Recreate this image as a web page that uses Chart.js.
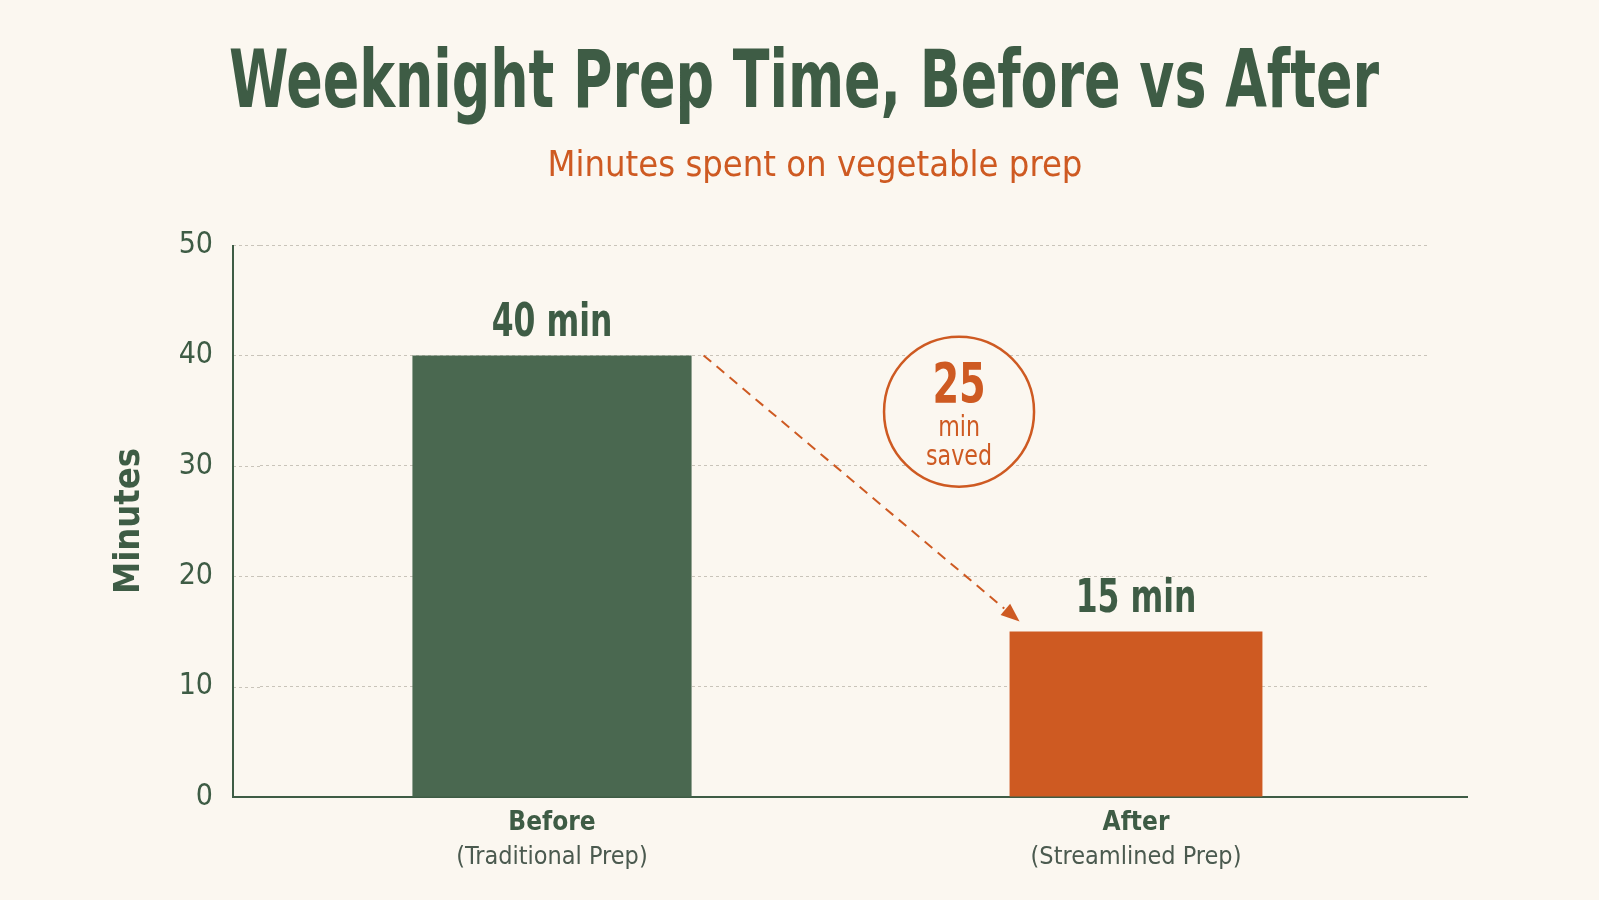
<!DOCTYPE html>
<html>
<head>
<meta charset="utf-8">
<title>Weeknight Prep Time, Before vs After</title>
<script src="https://cdn.jsdelivr.net/npm/chart.js@4.4.1/dist/chart.umd.min.js"></script>
<style>
  html, body { margin: 0; padding: 0; background: #FBF7F0; }
  #wrap { width: 1599px; height: 900px; }
</style>
</head>
<body>
<div id="wrap"><canvas id="prepChart" width="1599" height="900"></canvas></div>
<script>
// chart data
const titleText = 'Weeknight Prep Time, Before vs After';
const subtitleText = 'Minutes spent on vegetable prep';
const categories = ['Before', 'After'];
const subLabels = ['(Traditional Prep)', '(Streamlined Prep)'];
const minutes = [40, 15];
const barWidths = [0.478, 0.433];
const yMin = 0;
const yMax = 50;
const yStep = 10;

(function() {
    'use strict';

    const FONT = "'DejaVu Sans Condensed', 'DejaVu Sans', sans-serif";
    const GREEN = '#3E5C45';
    const BAR_GREEN = '#4A6850';
    const ORANGE = '#CE5A22';
    const BG = '#FBF7F0';
    const GRID = '#C9C4BA';

    // draw text squeezed horizontally (no narrow font installed)
    function squeezeText(ctx, text, x, y, sx) {
        ctx.save();
        ctx.translate(x, y);
        ctx.scale(sx, 1);
        ctx.fillText(text, 0, 0);
        ctx.restore();
    }

    // background + headline
    const headPlugin = {
        id: 'head',
        beforeDraw(chart) {
            const ctx = chart.ctx;
            ctx.save();
            ctx.fillStyle = BG;
            ctx.fillRect(0, 0, chart.width, chart.height);

            ctx.textAlign = 'center';
            ctx.textBaseline = 'alphabetic';
            ctx.fillStyle = GREEN;
            ctx.font = 'bold 80px ' + FONT;
            const w = ctx.measureText(titleText).width;
            squeezeText(ctx, titleText, 804, 107, 1150 / w);

            ctx.fillStyle = ORANGE;
            ctx.font = '36px ' + FONT;
            ctx.textBaseline = 'middle';
            squeezeText(ctx, subtitleText, 815, 167, 1.0);
            ctx.restore();
        }
    };

    // axis lines sit a bit left of the plot, x axis runs a bit past it
    const axisPlugin = {
        id: 'axisLines',
        beforeDatasetsDraw(chart) {
            const ctx = chart.ctx;
            const area = chart.chartArea;
            const y = chart.scales.y;
            const axisX = area.left - 27;
            ctx.save();
            ctx.strokeStyle = GRID;
            ctx.lineWidth = 1;
            ctx.setLineDash([3, 3]);
            y.ticks.forEach(function(t) {
                if (t.value === yMin) return;
                const py = Math.round(y.getPixelForValue(t.value)) + 0.5;
                ctx.beginPath();
                ctx.moveTo(axisX, py);
                ctx.lineTo(area.left, py);
                ctx.stroke();
            });
            ctx.setLineDash([]);
            ctx.strokeStyle = GREEN;
            ctx.lineWidth = 2;
            const y0 = y.getPixelForValue(yMin);
            ctx.beginPath();
            ctx.moveTo(axisX, y.getPixelForValue(yMax));
            ctx.lineTo(axisX, y0);
            ctx.lineTo(area.right + 40, y0);
            ctx.stroke();
            ctx.restore();
        }
    };

    // value labels, sub labels, arrow and savings badge
    const notesPlugin = {
        id: 'notes',
        afterDatasetsDraw(chart) {
            const ctx = chart.ctx;
            const xs = chart.scales.x;
            const ys = chart.scales.y;
            const bars = minutes.map(function(v, i) {
                return chart.getDatasetMeta(i).data[i];
            });
            ctx.save();

            // "40 min" / "15 min"
            ctx.fillStyle = GREEN;
            ctx.textAlign = 'center';
            ctx.textBaseline = 'alphabetic';
            ctx.font = 'bold 46px ' + FONT;
            bars.forEach(function(b, i) {
                squeezeText(ctx, minutes[i] + ' min', b.x, b.y - 19, 0.76);
            });

            // second line of x labels
            ctx.fillStyle = '#4B5A4F';
            ctx.font = '25px ' + FONT;
            ctx.textBaseline = 'middle';
            subLabels.forEach(function(s, i) {
                ctx.fillText(s, xs.getPixelForTick(i), chart.chartArea.bottom + 60);
            });

            // dashed arrow from first bar to second
            const b0 = bars[0], b1 = bars[1];
            const sx = b0.x + b0.width / 2 + 12;
            const sy = ys.getPixelForValue(minutes[0]);
            const ex = b1.x - b1.width / 2 + 10;
            const ey = ys.getPixelForValue(minutes[1]) - 10;
            const ang = Math.atan2(ey - sy, ex - sx);
            const head = 20;
            ctx.strokeStyle = ORANGE;
            ctx.lineWidth = 2;
            ctx.setLineDash([10, 7]);
            ctx.beginPath();
            ctx.moveTo(sx, sy);
            ctx.lineTo(ex - Math.cos(ang) * head, ey - Math.sin(ang) * head);
            ctx.stroke();
            ctx.setLineDash([]);
            ctx.fillStyle = ORANGE;
            ctx.beginPath();
            ctx.moveTo(ex, ey);
            ctx.lineTo(ex - head * Math.cos(ang - 0.38), ey - head * Math.sin(ang - 0.38));
            ctx.lineTo(ex - head * Math.cos(ang + 0.38), ey - head * Math.sin(ang + 0.38));
            ctx.closePath();
            ctx.fill();

            // badge
            const cx = b0.x + (b1.x - b0.x) * 0.697;
            const cy = ys.getPixelForValue(34.9);
            ctx.beginPath();
            ctx.arc(cx, cy, 75, 0, Math.PI * 2);
            ctx.fillStyle = BG;
            ctx.fill();
            ctx.lineWidth = 2.5;
            ctx.strokeStyle = ORANGE;
            ctx.stroke();
            ctx.fillStyle = ORANGE;
            ctx.textBaseline = 'middle';
            ctx.font = 'bold 56px ' + FONT;
            squeezeText(ctx, String(minutes[0] - minutes[1]), cx, cy - 24, 0.76);
            ctx.font = '28px ' + FONT;
            squeezeText(ctx, 'min', cx, cy + 17, 0.88);
            squeezeText(ctx, 'saved', cx, cy + 46, 0.88);
            ctx.restore();
        }
    };

    function initPrepChart() {
        const canvas = document.getElementById('prepChart');
        if (!canvas || typeof Chart === 'undefined') {
            console.error('Prep chart: canvas or Chart.js missing');
            return;
        }

        const datasets = minutes.map(function(v, i) {
            return {
                label: categories[i],
                data: categories.map(function(c, j) { return j === i ? v : null; }),
                backgroundColor: i === 0 ? BAR_GREEN : ORANGE,
                borderWidth: 0,
                barPercentage: barWidths[i],
                categoryPercentage: 1,
                grouped: false
            };
        });

        new Chart(canvas, {
            type: 'bar',
            data: { labels: categories, datasets: datasets },
            plugins: [headPlugin, axisPlugin, notesPlugin],
            options: {
                responsive: false,
                animation: false,
                layout: { padding: { top: 245, left: 0, right: 0, bottom: 0 } },
                plugins: {
                    legend: { display: false },
                    tooltip: { enabled: false },
                    title: { display: false }
                },
                scales: {
                    x: {
                        grid: { display: false, drawTicks: false },
                        border: { display: false },
                        ticks: {
                            color: GREEN,
                            padding: 11,
                            font: { family: FONT, size: 26, weight: 'bold' }
                        },
                        afterFit: function(scale) { scale.height = 103; }
                    },
                    y: {
                        min: yMin,
                        max: yMax,
                        grid: {
                            drawTicks: false,
                            lineWidth: 1,
                            color: function(c) { return c.tick && c.tick.value === yMin ? 'transparent' : GRID; }
                        },
                        border: { display: false, dash: [3, 3] },
                        ticks: {
                            stepSize: yStep,
                            color: GREEN,
                            padding: 47,
                            font: { family: FONT, size: 30 }
                        },
                        title: {
                            display: true,
                            text: 'Minutes',
                            color: GREEN,
                            font: { family: FONT, size: 36, weight: 'bold', lineHeight: 1.2 },
                            padding: { top: 108, bottom: 0 }
                        },
                        afterFit: function(scale) { scale.width = 260; }
                    },
                    yRight: {
                        position: 'right',
                        display: true,
                        grid: { display: false },
                        border: { display: false },
                        ticks: { display: false },
                        afterFit: function(scale) { scale.width = 171; }
                    }
                }
            }
        });
    }

    if (document.readyState === 'loading') {
        document.addEventListener('DOMContentLoaded', initPrepChart);
    } else {
        initPrepChart();
    }
})();
</script>
</body>
</html>
